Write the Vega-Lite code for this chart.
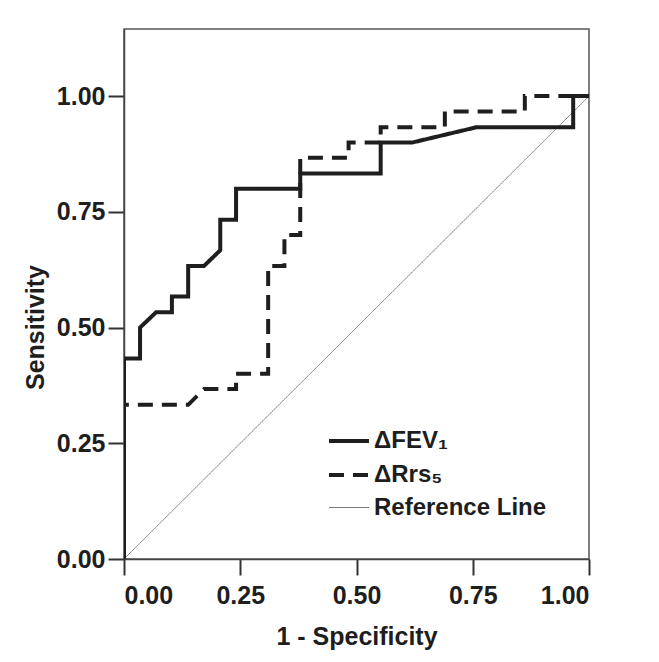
{
  "$schema": "https://vega.github.io/schema/vega-lite/v6.json",
  "width": 465,
  "height": 530,
  "autosize": {"type": "none"},
  "padding": {"left": 124, "top": 29, "right": 70, "bottom": 103},
  "background": "white",
  "config": {
    "font": "Liberation Sans",
    "view": {"stroke": "#555555", "strokeWidth": 1.5},
    "axis": {"grid": false}
  },
  "data": {
    "values": [
      {"series": "Reference Line", "ord": 0, "fpr": 0, "tpr": 0},
      {"series": "Reference Line", "ord": 1, "fpr": 1, "tpr": 1},
      {"series": "ΔRrs₅", "ord": 0, "fpr": 0, "tpr": 0},
      {"series": "ΔRrs₅", "ord": 1, "fpr": 0, "tpr": 0.333},
      {"series": "ΔRrs₅", "ord": 2, "fpr": 0.138, "tpr": 0.333},
      {"series": "ΔRrs₅", "ord": 3, "fpr": 0.172, "tpr": 0.367},
      {"series": "ΔRrs₅", "ord": 4, "fpr": 0.241, "tpr": 0.367},
      {"series": "ΔRrs₅", "ord": 5, "fpr": 0.241, "tpr": 0.4},
      {"series": "ΔRrs₅", "ord": 6, "fpr": 0.31, "tpr": 0.4},
      {"series": "ΔRrs₅", "ord": 7, "fpr": 0.31, "tpr": 0.633},
      {"series": "ΔRrs₅", "ord": 8, "fpr": 0.345, "tpr": 0.633},
      {"series": "ΔRrs₅", "ord": 9, "fpr": 0.345, "tpr": 0.7},
      {"series": "ΔRrs₅", "ord": 10, "fpr": 0.379, "tpr": 0.7},
      {"series": "ΔRrs₅", "ord": 11, "fpr": 0.379, "tpr": 0.867},
      {"series": "ΔRrs₅", "ord": 12, "fpr": 0.483, "tpr": 0.867},
      {"series": "ΔRrs₅", "ord": 13, "fpr": 0.483, "tpr": 0.9},
      {"series": "ΔRrs₅", "ord": 14, "fpr": 0.552, "tpr": 0.9},
      {"series": "ΔRrs₅", "ord": 15, "fpr": 0.552, "tpr": 0.933},
      {"series": "ΔRrs₅", "ord": 16, "fpr": 0.69, "tpr": 0.933},
      {"series": "ΔRrs₅", "ord": 17, "fpr": 0.69, "tpr": 0.967},
      {"series": "ΔRrs₅", "ord": 18, "fpr": 0.862, "tpr": 0.967},
      {"series": "ΔRrs₅", "ord": 19, "fpr": 0.862, "tpr": 1},
      {"series": "ΔRrs₅", "ord": 20, "fpr": 1, "tpr": 1},
      {"series": "ΔFEV₁", "ord": 0, "fpr": 0, "tpr": 0},
      {"series": "ΔFEV₁", "ord": 1, "fpr": 0, "tpr": 0.433},
      {"series": "ΔFEV₁", "ord": 2, "fpr": 0.0345, "tpr": 0.433},
      {"series": "ΔFEV₁", "ord": 3, "fpr": 0.0345, "tpr": 0.5},
      {"series": "ΔFEV₁", "ord": 4, "fpr": 0.069, "tpr": 0.533},
      {"series": "ΔFEV₁", "ord": 5, "fpr": 0.103, "tpr": 0.533},
      {"series": "ΔFEV₁", "ord": 6, "fpr": 0.103, "tpr": 0.567},
      {"series": "ΔFEV₁", "ord": 7, "fpr": 0.138, "tpr": 0.567},
      {"series": "ΔFEV₁", "ord": 8, "fpr": 0.138, "tpr": 0.633},
      {"series": "ΔFEV₁", "ord": 9, "fpr": 0.172, "tpr": 0.633},
      {"series": "ΔFEV₁", "ord": 10, "fpr": 0.207, "tpr": 0.667},
      {"series": "ΔFEV₁", "ord": 11, "fpr": 0.207, "tpr": 0.733},
      {"series": "ΔFEV₁", "ord": 12, "fpr": 0.241, "tpr": 0.733},
      {"series": "ΔFEV₁", "ord": 13, "fpr": 0.241, "tpr": 0.8},
      {"series": "ΔFEV₁", "ord": 14, "fpr": 0.379, "tpr": 0.8},
      {"series": "ΔFEV₁", "ord": 15, "fpr": 0.379, "tpr": 0.833},
      {"series": "ΔFEV₁", "ord": 16, "fpr": 0.552, "tpr": 0.833},
      {"series": "ΔFEV₁", "ord": 17, "fpr": 0.552, "tpr": 0.9},
      {"series": "ΔFEV₁", "ord": 18, "fpr": 0.621, "tpr": 0.9},
      {"series": "ΔFEV₁", "ord": 19, "fpr": 0.759, "tpr": 0.933},
      {"series": "ΔFEV₁", "ord": 20, "fpr": 0.966, "tpr": 0.933},
      {"series": "ΔFEV₁", "ord": 21, "fpr": 0.966, "tpr": 1},
      {"series": "ΔFEV₁", "ord": 22, "fpr": 1, "tpr": 1}
    ]
  },
  "mark": {"type": "line", "strokeJoin": "miter", "strokeCap": "butt", "clip": true},
  "encoding": {
    "x": {
      "field": "fpr", "type": "quantitative",
      "scale": {"domain": [0, 1], "nice": false, "zero": false},
      "axis": {
        "values": [0, 0.25, 0.5, 0.75, 1], "format": ".2f",
        "title": "1 - Specificity",
        "domainColor": "#444444", "domainWidth": 1.5,
        "tickColor": "#333333", "tickWidth": 2, "tickSize": 16,
        "labelFontSize": 25, "labelFontWeight": "bold", "labelColor": "#1e1e1e", "labelPadding": 8,
        "titleFontSize": 25, "titleFontWeight": "bold", "titleColor": "#1e1e1e", "titlePadding": 16
      }
    },
    "y": {
      "field": "tpr", "type": "quantitative",
      "scale": {"domain": [0, 1.145], "nice": false, "zero": false},
      "axis": {
        "values": [0, 0.25, 0.5, 0.75, 1], "format": ".2f",
        "title": "Sensitivity",
        "domainColor": "#444444", "domainWidth": 1.5,
        "tickColor": "#333333", "tickWidth": 2, "tickSize": 16,
        "labelFontSize": 25, "labelFontWeight": "bold", "labelColor": "#1e1e1e", "labelPadding": 3,
        "titleFontSize": 25, "titleFontWeight": "bold", "titleColor": "#1e1e1e", "titlePadding": 8,
        "titleY": 298
      }
    },
    "order": {"field": "ord", "type": "quantitative"},
    "strokeDash": {
      "field": "series", "type": "nominal",
      "scale": {"domain": ["ΔFEV₁", "ΔRrs₅", "Reference Line"], "range": [[1, 0], [15, 9], [1, 0]]},
      "legend": null
    },
    "strokeWidth": {
      "field": "series", "type": "nominal",
      "scale": {"type": "ordinal", "domain": ["ΔFEV₁", "ΔRrs₅", "Reference Line"], "range": [4, 4, 1]},
      "legend": null
    },
    "color": {
      "field": "series", "type": "nominal",
      "scale": {"domain": ["ΔFEV₁", "ΔRrs₅", "Reference Line"], "range": ["#1e1e1e", "#1e1e1e", "#7a7a7a"]},
      "legend": {
        "title": null,
        "orient": "none", "legendX": 203, "legendY": 390,
        "symbolType": "stroke", "symbolSize": 1600,
        "labelFontSize": 24, "labelFontWeight": "bold", "labelColor": "#1e1e1e",
        "labelOffset": 3, "rowPadding": -8, "labelLimit": 400,
        "values": ["ΔFEV₁", "ΔRrs₅", "Reference Line"]
      }
    }
  }
}
